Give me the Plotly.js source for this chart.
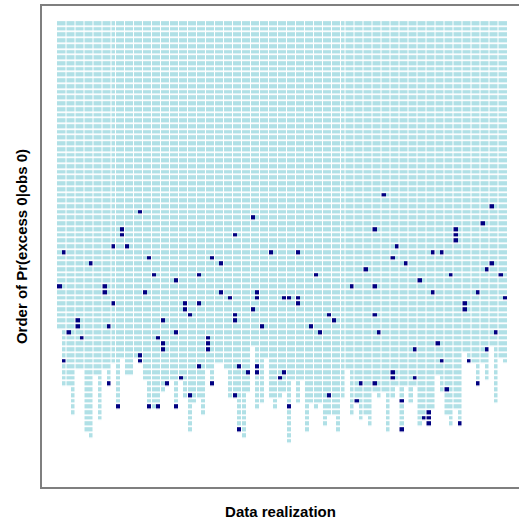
<!DOCTYPE html>
<html><head><meta charset="utf-8">
<script src="https://cdn.plot.ly/plotly-3.0.1.min.js"></script>
<style>html,body{margin:0;padding:0;background:#fff}#chart{width:519px;height:524px}</style>
</head><body><div id="chart"></div>
<script>
// Number of ranked zero observations (column length) for each data realization 1..100
const columnLengths = [
  54, 64, 64, 69, 61, 61, 72, 73, 62, 70,
  61, 64, 60, 68, 59, 62, 62, 59, 60, 63,
  68, 68, 68, 65, 64, 63, 68, 63, 66, 72,
  67, 66, 69, 61, 64, 60, 60, 61, 66, 66,
  72, 73, 65, 57, 68, 67, 59, 66, 68, 66,
  65, 74, 63, 67, 63, 72, 67, 68, 67, 71,
  69, 69, 72, 66, 61, 69, 67, 70, 69, 71,
  65, 66, 65, 72, 66, 64, 72, 64, 67, 64,
  71, 70, 71, 68, 62, 65, 69, 71, 68, 71,
  58, 60, 60, 64, 60, 63, 57, 67, 59, 60
];
// Highlighted (true excess zero) cells: realization and order
const darkRealization = [
  19,44,15,15,40,13,16,2,48,21,35,8,37,22,32,27,1,11,11,20,37,45,39,45,51,13,29,32,29,44,
  30,40,5,24,40,5,12,46,3,27,6,23,34,24,34,24,34,19,2,19,32,41,45,43,45,51,28,50,12,25,
  35,30,40,14,21,23,27,41,
  73,97,95,71,89,89,89,76,54,84,86,75,78,97,69,96,58,88,99,81,66,71,84,94,52,54,100,54,91,91,
  61,71,62,57,59,72,98,85,80,96,86,92,75,75,80,68,71,94,87,61,67,77,52,83,82,83,83,90,77
];
const darkOrder = [
  34,35,37,38,38,40,40,41,41,42,42,43,43,45,45,46,47,47,48,48,48,48,49,49,49,50,50,50,51,51,
  52,52,53,53,53,54,54,54,55,55,56,56,56,57,57,58,58,59,60,60,61,61,61,62,62,62,63,63,64,64,
  64,66,66,68,68,68,68,72,
  31,33,36,37,37,38,39,40,41,41,41,42,43,43,44,44,45,45,45,46,47,47,48,48,49,49,49,50,50,51,
  52,52,53,54,55,55,55,57,58,58,60,60,62,63,63,64,64,64,65,66,67,67,68,69,70,70,71,71,72
];
const xTitle = 'Data realization';
const yTitle = 'Order of Pr(excess 0|obs 0)';

const nReal = columnLengths.length;
const maxLen = Math.max(...columnLengths);
const realizations = columnLengths.map((_, i) => i + 1);
const orders = [];
for (let r = 1; r <= maxLen; r++) orders.push(r);

const z = orders.map(r => realizations.map((c, i) => (r <= columnLengths[i] ? 0 : null)));
darkRealization.forEach((c, i) => { z[darkOrder[i] - 1][c - 1] = 1; });

// white separators between adjacent column pairs (as rendered in the original raster)
const singles = [13, 64];
const shapes = [];
let k = 1;
while (k <= nReal) {
  const w = singles.includes(k) ? 1 : 2;
  const edge = k + w - 0.5;
  if (edge < nReal + 0.5) {
    shapes.push({type: 'line', xref: 'x', yref: 'y', x0: edge, x1: edge, y0: 0.3, y1: maxLen + 0.7,
      line: {color: '#ffffff', width: 1}, layer: 'above'});
  }
  k += w;
}

const titleFont = {family: 'Liberation Sans, Arial, sans-serif', size: 15, color: '#000', weight: 'bold'};

const trace = {
  type: 'heatmap', x: realizations, y: orders, z: z,
  colorscale: [[0, '#b0e0e6'], [1, '#000080']], zmin: 0, zmax: 1,
  showscale: false, connectgaps: false, xgap: 0, ygap: 1.7, hoverinfo: 'skip'
};

const layout = {
  width: 519, height: 524,
  margin: {l: 42, r: 0, t: 6, b: 37},
  paper_bgcolor: '#fff', plot_bgcolor: '#fff',
  showlegend: false,
  shapes: shapes,
  xaxis: {
    range: [-2.833, 103.167], autorange: false,
    showgrid: false, zeroline: false, showticklabels: false, ticks: '',
    showline: true, mirror: true, linecolor: '#7f7f7f', linewidth: 2,
    title: {text: xTitle, font: titleFont, standoff: 18}
  },
  yaxis: {
    range: [81.94, -2.147], autorange: false,
    showgrid: false, zeroline: false, showticklabels: false, ticks: '',
    showline: true, mirror: false, linecolor: '#7f7f7f', linewidth: 2,
    title: {text: yTitle, font: titleFont, standoff: 9}
  }
};

Plotly.newPlot('chart', [trace], layout, {displayModeBar: false, staticPlot: true});
</script>
</body></html>
